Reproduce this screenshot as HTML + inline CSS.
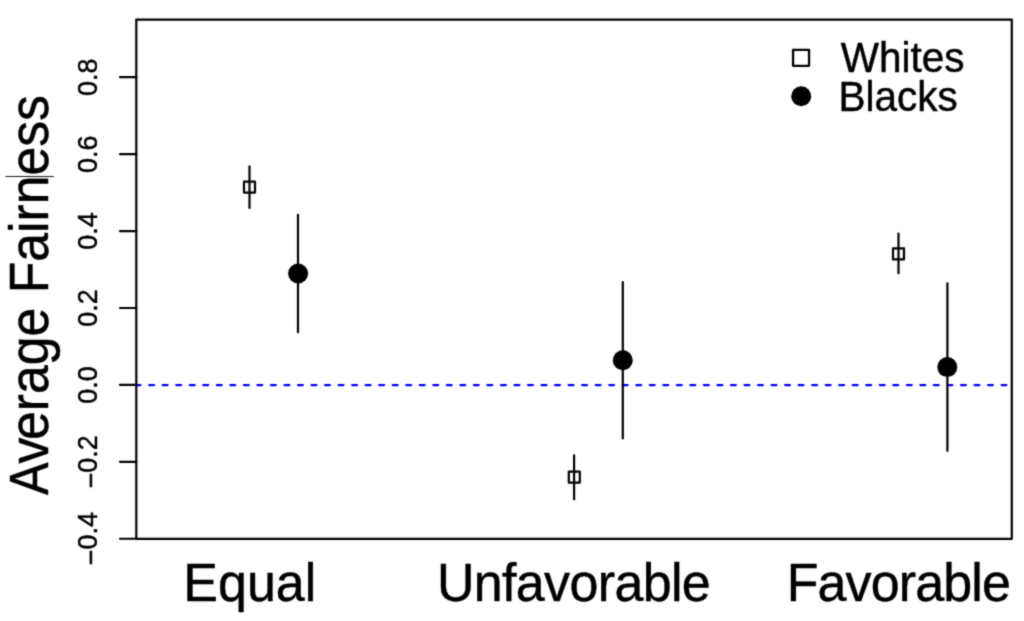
<!DOCTYPE html>
<html>
<head>
<meta charset="utf-8">
<style>
html,body{margin:0;padding:0;background:#fff;}
body{width:1024px;height:621px;overflow:hidden;position:relative;}
svg{position:absolute;left:0;top:0;}
text{font-family:"Liberation Sans", sans-serif;fill:#000;stroke:#000;stroke-width:0.45px;}
</style>
</head>
<body>
<svg width="1024" height="621" viewBox="0 0 1024 621">
<defs><filter id="bl" x="-2%" y="-2%" width="104%" height="104%" color-interpolation-filters="sRGB"><feConvolveMatrix order="3" kernelMatrix="0.02768 0.11101 0.02768 0.11101 0.44521 0.11101 0.02768 0.11101 0.02768" divisor="1" edgeMode="none" preserveAlpha="false"/></filter></defs>
<rect x="0" y="0" width="1024" height="621" fill="#fff"/>
<g filter="url(#bl)">
<rect x="136.3" y="19.6" width="875.50" height="519.20" fill="none" stroke="#000" stroke-width="2.2" stroke-linejoin="round"/>
<line x1="135.65" y1="385.1" x2="1011.8" y2="385.1" stroke="#0000ff" stroke-width="2.2" stroke-dasharray="4.9 8.63" stroke-linecap="round"/>
<g stroke="#000" stroke-width="2.2" stroke-linecap="round">
<line x1="120.0" y1="77.22" x2="136.3" y2="77.22"/>
<line x1="120.0" y1="154.14" x2="136.3" y2="154.14"/>
<line x1="120.0" y1="231.06" x2="136.3" y2="231.06"/>
<line x1="120.0" y1="307.98" x2="136.3" y2="307.98"/>
<line x1="120.0" y1="384.90" x2="136.3" y2="384.90"/>
<line x1="120.0" y1="461.82" x2="136.3" y2="461.82"/>
<line x1="120.0" y1="538.74" x2="136.3" y2="538.74"/>
</g>
<g font-size="27" text-anchor="middle">
<text transform="translate(97.1 77.22) rotate(-90) scale(1 1.025)">0.8</text>
<text transform="translate(97.1 154.14) rotate(-90) scale(1 1.025)">0.6</text>
<text transform="translate(97.1 231.06) rotate(-90) scale(1 1.025)">0.4</text>
<text transform="translate(97.1 307.98) rotate(-90) scale(1 1.025)">0.2</text>
<text transform="translate(97.1 384.90) rotate(-90) scale(1 1.025)">0.0</text>
<text transform="translate(97.1 461.82) rotate(-90) scale(1 1.025)"><tspan dy="2.4" stroke="#000" stroke-width="0.6">&#8722;</tspan><tspan dy="-2.4">0.2</tspan></text>
<text transform="translate(97.1 538.74) rotate(-90) scale(1 1.025)"><tspan dy="2.4" stroke="#000" stroke-width="0.6">&#8722;</tspan><tspan dy="-2.4">0.4</tspan></text>
</g>
<text font-size="51.7" text-anchor="end" transform="translate(48.4 462.5) rotate(-90) scale(0.945 1.06)">A</text>
<text font-size="51.7" transform="translate(48.4 463.38) rotate(-90) scale(1 1.06)">v<tspan dx="-2.4">erage Fairness</tspan></text>
<line x1="5.9" y1="176.5" x2="53.3" y2="176.5" stroke="#1a1a1a" stroke-width="1.15" stroke-linecap="round"/>
<g text-anchor="middle">
<text font-size="52" letter-spacing="0" transform="translate(249.8 600.8) scale(1 1.03)">Equal</text>
<text font-size="52" letter-spacing="-0.64" transform="translate(573.5 600.8) scale(1 1.03)">Unfavorable</text>
<text font-size="52" letter-spacing="-0.87" transform="translate(898.3 600.8) scale(1 1.03)">Favorable</text>
</g>
<g stroke="#000" stroke-width="2.2" stroke-linecap="round">
<line x1="249.5" y1="166.4" x2="249.5" y2="207.9"/>
<line x1="298.0" y1="214.8" x2="298.0" y2="332.3"/>
<line x1="574.1" y1="455.3" x2="574.1" y2="499.3"/>
<line x1="622.8" y1="282.2" x2="622.8" y2="438.4"/>
<line x1="898.5" y1="233.5" x2="898.5" y2="273.3"/>
<line x1="947.4" y1="283.4" x2="947.4" y2="450.8"/>
</g>
<g fill="none" stroke="#000" stroke-width="2.2" stroke-linejoin="round">
<rect x="244.0" y="181.6" width="11" height="11"/>
<rect x="568.8" y="471.7" width="11" height="11"/>
<rect x="893.0" y="248.4" width="11" height="11"/>
</g>
<g fill="#000">
<circle cx="298.1" cy="273.5" r="10"/>
<circle cx="622.75" cy="360.2" r="10"/>
<circle cx="947.3" cy="367.1" r="10"/>
</g>
<rect x="793.05" y="49.85" width="16" height="16" fill="none" stroke="#000" stroke-width="2.3" stroke-linejoin="round"/>
<circle cx="801.2" cy="96.3" r="10"/>
<g font-size="40.5">
<text transform="translate(840.7 71.9) scale(1 1.035)">Whites</text>
<text transform="translate(838.4 110.8) scale(1 1.035)">Blacks</text>
</g>
</g>
</svg>
</body>
</html>
